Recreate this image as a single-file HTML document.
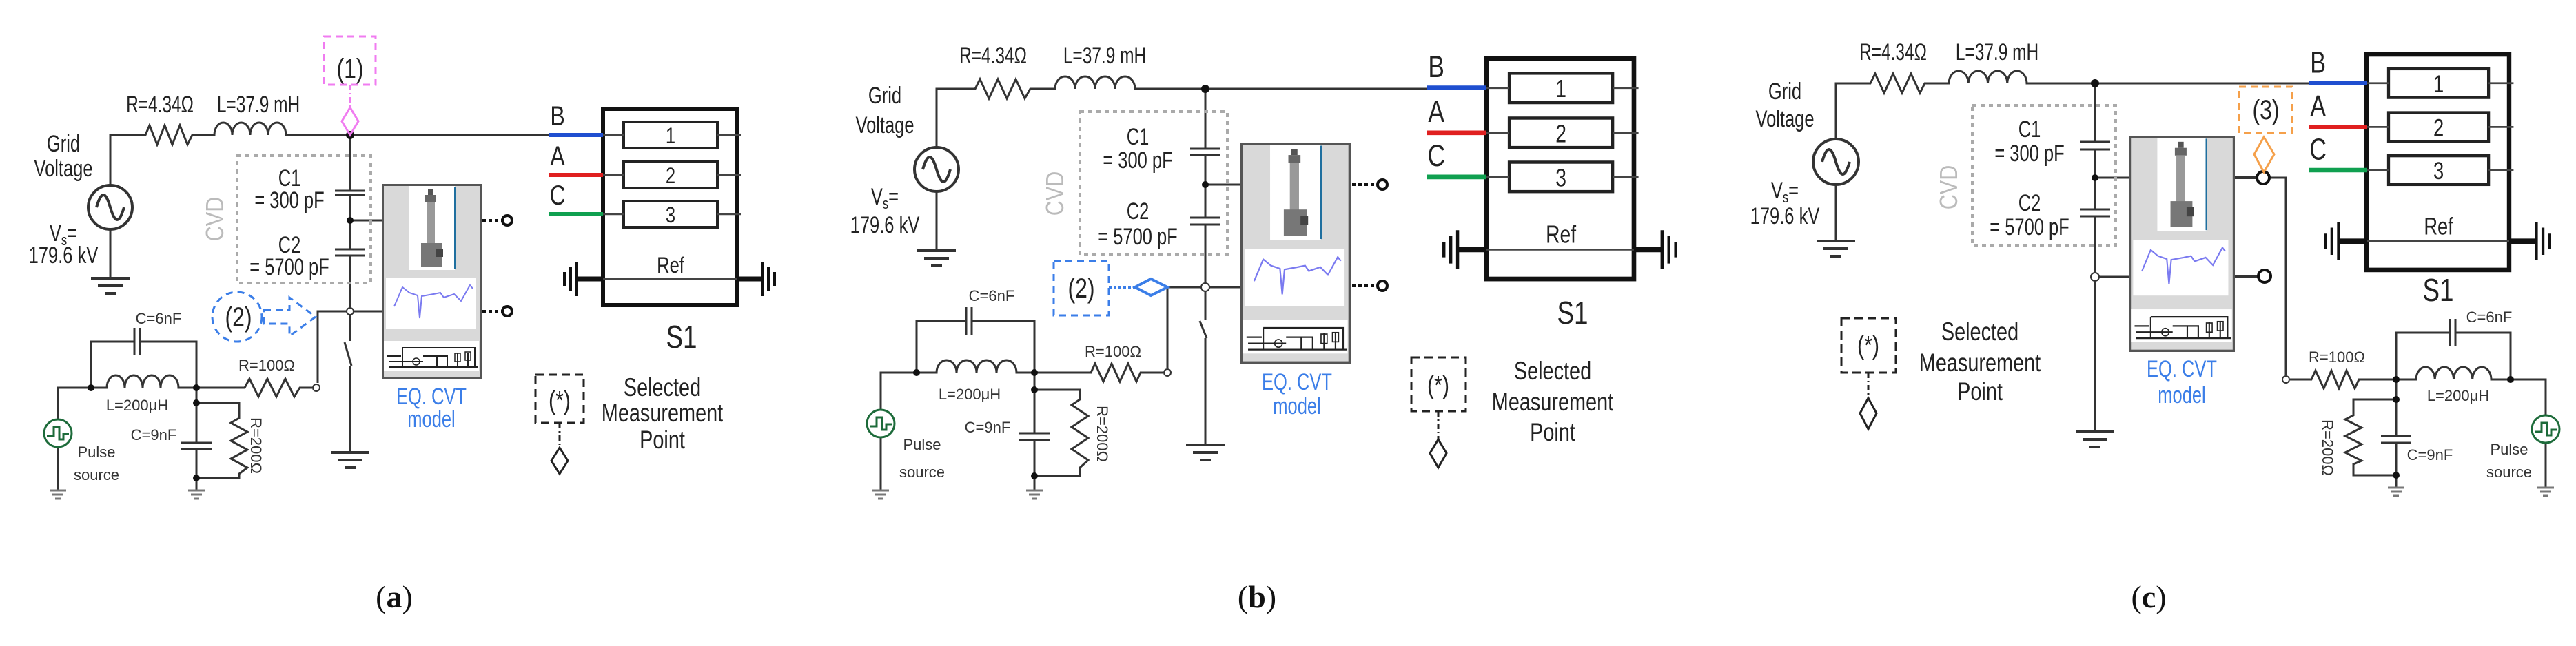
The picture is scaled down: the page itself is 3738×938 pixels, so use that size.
<!DOCTYPE html>
<html><head><meta charset="utf-8"><style>
html,body{margin:0;padding:0;background:#fff}
svg{display:block}
.n{font-family:"Liberation Sans Narrow","Liberation Sans",sans-serif;fill:#222}
.s{font-family:"Liberation Sans",sans-serif;fill:#333}
</style></head><body>
<svg width="3738" height="938" viewBox="0 0 3738 938" xmlns="http://www.w3.org/2000/svg">
<defs>
<symbol id="eq" viewBox="0 0 145 284" preserveAspectRatio="none">
 <rect x="1.5" y="1.5" width="142" height="281" fill="#d9d9d9" stroke="#555" stroke-width="3"/>
 <rect x="39" y="3" width="67" height="122" fill="#fff"/>
 <line x1="106" y1="4" x2="106" y2="124" stroke="#1f6f9f" stroke-width="2"/>
 <rect x="67" y="8" width="8" height="8" fill="#555"/>
 <rect x="63" y="16" width="16" height="10" fill="#666"/>
 <rect x="65" y="26" width="12" height="62" fill="#999"/>
 <rect x="57" y="86" width="30" height="34" fill="#777"/>
 <rect x="79" y="94" width="10" height="12" fill="#444"/>
 <rect x="6" y="137" width="130" height="73" fill="#fff"/>
 <polyline points="18,178 30,150 40,158 52,162 55,195 58,163 75,160 85,158 90,165 105,160 115,170 128,147 132,152" fill="none" stroke="#7a7af0" stroke-width="2"/>
 <rect x="3" y="228" width="138" height="43" fill="#fff"/>
 <path d="M10,258 H60 M10,266 H140 M30,238 H135 V266 M30,238 V266 M60,250 H80 V266 M80,250 H95 V266 M110,245 V266 M125,245 V266 M8,250 H28" fill="none" stroke="#222" stroke-width="2"/>
 <rect x="106" y="246" width="8" height="12" fill="none" stroke="#222" stroke-width="1.5"/>
 <rect x="121" y="244" width="8" height="12" fill="none" stroke="#222" stroke-width="1.5"/>
 <circle cx="50" cy="258" r="5" fill="none" stroke="#222" stroke-width="1.5"/>
</symbol>
<g id="gnd"><path d="M-28,0 H28 M-18,11 H18 M-8,22 H8" stroke="#333" stroke-width="4" fill="none"/></g>
<g id="gs"><path d="M-12,0 H12 M-8,6 H8 M-4,12 H4" stroke="#777" stroke-width="3" fill="none"/></g>
<g id="s1">
 <rect x="0" y="0" width="194" height="285" fill="none" stroke="#111" stroke-width="6"/>
 <g fill="none" stroke="#222" stroke-width="4">
 <rect x="30" y="19" width="136" height="38"/><rect x="30" y="77" width="136" height="38"/><rect x="30" y="134" width="136" height="38"/></g>
 <path d="M0,38 H30 M166,38 H200 M0,96 H30 M166,96 H200 M0,153 H30 M166,153 H200" stroke="#444" stroke-width="2.5"/>
 <line x1="-78" y1="38" x2="0" y2="38" stroke="#1f4fd0" stroke-width="6"/>
 <line x1="-78" y1="96" x2="0" y2="96" stroke="#e02020" stroke-width="6"/>
 <line x1="-78" y1="153" x2="0" y2="153" stroke="#10a050" stroke-width="6"/>
 <line x1="-38" y1="247" x2="231" y2="247" stroke="#444" stroke-width="2.5"/>
 <path d="M-38,247 H0 M194,247 H231" stroke="#111" stroke-width="7"/>
 <path d="M-38,222 V272 M-47,229 V265 M-56,237 V257 M231,222 V272 M240,229 V265 M249,237 V257" stroke="#111" stroke-width="4"/>
 <g class="n" font-size="40" text-anchor="middle">
  <text transform="translate(-66,24) scale(.8,1)">B</text><text transform="translate(-66,82) scale(.8,1)">A</text><text transform="translate(-66,139) scale(.8,1)">C</text></g>
 <g class="n" font-size="32" text-anchor="middle">
  <text transform="translate(98,50) scale(.8,1)">1</text><text transform="translate(98,108) scale(.8,1)">2</text><text transform="translate(98,165) scale(.8,1)">3</text><text transform="translate(98,238) scale(.8,1)">Ref</text></g>
</g>
</defs>

<g fill="none" stroke="#333" stroke-width="3">
<!-- A -->
<path d="M160,269 V196 H211 L217,182 L228,210 L239,182 L250,210 L261,182 L272,210 L279,196 H311 a13,18 0 0 1 26,0 a13,18 0 0 1 26,0 a13,18 0 0 1 26,0 a13,18 0 0 1 26,0 H797"/>
<path d="M160,333 V404"/>
<circle cx="160" cy="301" r="32" stroke-width="4"/>
<path d="M140,301 C147,277 153,277 160,301 S173,325 180,301" stroke-width="4"/>
<path d="M508,196 V277 M508,283 V362 M508,371 V495 M500,497 L510,531 M508,531 V657 M486,277 H530 M486,283 H530 M486,362 H530 M486,371 H530 M508,320 H554 M508,452 H554 M508,452 H461 V556"/>
<path d="M285,563 H355 L362,550 L375,576 L388,550 L401,576 L414,550 L427,576 L435,563 H453"/>
<path d="M84,609 V563 H155 a13,18 0 0 1 26,0 a13,18 0 0 1 26,0 a13,18 0 0 1 26,0 a13,18 0 0 1 26,0 V563 H285 M132,563 V496 H195 M203,496 H285 V563 M195,476 V516 M203,476 V516 M84,649 V712"/>
<path d="M285,563 V643 M263,643 H307 M263,652 H307 M285,652 V694 V712 M285,585 H347 V607 L335,614 L359,627 L335,640 L359,653 L335,666 L359,679 L347,688 V694 H285"/>
<!-- B -->
<path d="M1359,214 V129 H1415 L1422,115 L1435,143 L1448,115 L1461,143 L1474,115 L1487,143 L1495,129 H1531 a14.5,18 0 0 1 29,0 a14.5,18 0 0 1 29,0 a14.5,18 0 0 1 29,0 a14.5,18 0 0 1 29,0 H2071"/>
<path d="M1359,278 V364"/>
<circle cx="1359" cy="246" r="32" stroke-width="4"/>
<path d="M1339,246 C1346,222 1352,222 1359,246 S1372,270 1379,246" stroke-width="4"/>
<path d="M1749,129 V216 M1749,225 V316 M1749,326 V464 M1741,466 L1751,491 M1749,491 V646 M1727,216 H1771 M1727,225 H1771 M1727,316 H1771 M1727,326 H1771 M1749,268 H1800 M1749,417 H1800 M1749,417 H1694 V535"/>
<path d="M1501,541 H1583 L1589,528 L1601,554 L1613,528 L1625,554 L1637,528 L1649,554 L1655,541 H1688"/>
<path d="M1278,595 V541 H1359 a14.5,18 0 0 1 29,0 a14.5,18 0 0 1 29,0 a14.5,18 0 0 1 29,0 a14.5,18 0 0 1 29,0 V541 H1501 M1330,541 V466 H1402 M1410,466 H1501 V541 M1402,446 V486 M1410,446 V486 M1278,635 V712"/>
<path d="M1501,541 V629 M1479,629 H1523 M1479,639 H1523 M1501,639 V691 V712 M1501,566 H1567 V580 L1555,588 L1579,604 L1555,620 L1579,636 L1555,652 L1579,668 L1567,679 V691 H1501"/>
<!-- C -->
<path d="M2664,202 V121 H2714 L2721,107 L2734,135 L2747,107 L2760,135 L2773,107 L2786,135 L2793,121 H2828 a14.1,18 0 0 1 28.25,0 a14.1,18 0 0 1 28.25,0 a14.1,18 0 0 1 28.25,0 a14.1,18 0 0 1 28.25,0 H3352"/>
<path d="M2664,268 V350"/>
<circle cx="2664" cy="235" r="33" stroke-width="4"/>
<path d="M2644,235 C2651,211 2657,211 2664,235 S2677,259 2684,235" stroke-width="4"/>
<path d="M3040,121 V206 M3040,217 V304 M3040,314 V627 M3018,206 H3062 M3018,217 H3062 M3018,304 H3062 M3018,314 H3062 M3040,258 H3089 M3040,402 H3089"/>
<path d="M3243,258 H3275 M3243,401 H3277" stroke-width="4"/>
<path d="M3293,258 H3317 V545"/>
<path d="M3323,551 H3354 L3360,538 L3372,564 L3383,538 L3394,564 L3405,538 L3417,564 L3423,551 H3506 a13.6,18 0 0 1 27.25,0 a13.6,18 0 0 1 27.25,0 a13.6,18 0 0 1 27.25,0 a13.6,18 0 0 1 27.25,0 V551 H3694 V603 M3694,643 V708 M3477,551 V483 H3555 M3563,483 H3643 V551 M3555,463 V503 M3563,463 V503"/>
<path d="M3477,551 V633 M3455,633 H3499 M3455,643 H3499 M3477,643 V690 V708 M3477,580 H3415 V603 L3403,609 L3427,621 L3403,633 L3427,645 L3403,657 L3427,669 L3415,674 V690 H3477"/>
</g>

<use href="#gnd" x="160" y="404"/><use href="#gnd" x="508" y="657"/>
<use href="#gnd" x="1359" y="364"/><use href="#gnd" x="1749" y="646"/>
<use href="#gnd" x="2664" y="350"/><use href="#gnd" x="3040" y="627"/>
<use href="#gs" x="84" y="712"/><use href="#gs" x="285" y="712"/>
<use href="#gs" x="1278" y="712"/><use href="#gs" x="1501" y="712"/>
<use href="#gs" x="3477" y="708"/><use href="#gs" x="3694" y="708"/>

<g fill="#111">
<circle cx="508" cy="196" r="6"/><circle cx="508" cy="320" r="5"/><circle cx="132" cy="563" r="5"/><circle cx="285" cy="563" r="5"/><circle cx="285" cy="585" r="5"/><circle cx="285" cy="694" r="5"/>
<circle cx="1749" cy="129" r="6"/><circle cx="1749" cy="268" r="5"/><circle cx="1330" cy="541" r="5"/><circle cx="1501" cy="541" r="5"/><circle cx="1501" cy="566" r="5"/><circle cx="1501" cy="691" r="5"/>
<circle cx="3040" cy="121" r="6"/><circle cx="3040" cy="258" r="5"/><circle cx="3477" cy="551" r="5"/><circle cx="3643" cy="551" r="5"/><circle cx="3477" cy="580" r="5"/><circle cx="3477" cy="690" r="5"/>
</g>
<g fill="#fff" stroke="#333" stroke-width="2">
<circle cx="508" cy="452" r="5"/><circle cx="459" cy="563" r="5"/>
<circle cx="1749" cy="417" r="6"/><circle cx="1694" cy="541" r="5"/>
<circle cx="3040" cy="402" r="6"/><circle cx="3317" cy="551" r="5"/>
</g>
<g fill="#fff" stroke="#111" stroke-width="4">
<circle cx="3284" cy="258" r="9"/><circle cx="3286" cy="401" r="9"/>
<circle cx="736" cy="320" r="7"/><circle cx="736" cy="452" r="7"/>
<circle cx="2006" cy="268" r="7"/><circle cx="2006" cy="415" r="7"/>
</g>
<g stroke="#111" stroke-width="4" stroke-dasharray="5,4">
<path d="M700,320 H729 M700,452 H729 M1962,268 H1999 M1962,415 H1999"/>
</g>

<g fill="none" stroke="#1d6b3a" stroke-width="3">
<circle cx="84" cy="629" r="20"/><path d="M68,633 H78 V620 H86 V638 H92 V630 H100"/>
<circle cx="1278" cy="615" r="20"/><path d="M1262,619 H1272 V606 H1280 V624 H1286 V616 H1294"/>
<circle cx="3694" cy="623" r="20"/><path d="M3678,627 H3688 V614 H3696 V632 H3702 V624 H3710"/>
</g>

<g fill="none" stroke="#aaa" stroke-width="4" stroke-dasharray="6,6">
<rect x="344" y="226" width="194" height="185"/>
<rect x="1567" y="162" width="214" height="208"/>
<rect x="2862" y="153" width="208" height="204"/>
</g>
<g class="n" font-size="36" style="fill:#bbb" text-anchor="middle">
<text transform="translate(324,318) rotate(-90) scale(.85,1)">CVD</text>
<text transform="translate(1543,281) rotate(-90) scale(.85,1)">CVD</text>
<text transform="translate(2840,272) rotate(-90) scale(.85,1)">CVD</text>
</g>

<use href="#eq" x="554" y="267" width="145" height="284"/>
<use href="#eq" x="1800" y="207" width="160" height="321"/>
<use href="#eq" x="3089" y="197" width="154" height="314"/>

<use href="#s1" transform="translate(875,158)"/>
<use href="#s1" transform="translate(2157,85) scale(1.103,1.123)"/>
<use href="#s1" transform="translate(3434,79) scale(1.067,1.098)"/>

<rect x="470" y="53" width="75" height="70" fill="none" stroke="#f07cf0" stroke-width="3" stroke-dasharray="10,7"/>
<path d="M508,123 V156" stroke="#f07cf0" stroke-width="3" stroke-dasharray="8,4,2,4"/>
<polygon points="508,156 520,176 508,196 496,176" fill="none" stroke="#f07cf0" stroke-width="3"/>
<circle cx="344" cy="460" r="36" fill="none" stroke="#3b7ee8" stroke-width="3" stroke-dasharray="10,7"/>
<polygon points="383,450 420,450 420,432 458,460 420,488 420,470 383,470" fill="none" stroke="#3b7ee8" stroke-width="3" stroke-dasharray="10,7"/>
<rect x="1529" y="379" width="80" height="79" fill="none" stroke="#3b7ee8" stroke-width="3" stroke-dasharray="10,7"/>
<path d="M1609,417 H1647" stroke="#3b7ee8" stroke-width="4" stroke-dasharray="4,3"/>
<polygon points="1647,417 1670,405 1694,417 1670,429" fill="none" stroke="#3b7ee8" stroke-width="4"/>
<rect x="3249" y="126" width="77" height="67" fill="none" stroke="#f5a04a" stroke-width="3" stroke-dasharray="10,7"/>
<polygon points="3285,199 3300,224 3285,250 3271,224" fill="none" stroke="#f5a04a" stroke-width="3"/>

<g fill="none" stroke="#222" stroke-width="3">
<rect x="777" y="544" width="70" height="70" stroke-dasharray="12,7"/>
<path d="M812,614 V650" stroke-dasharray="8,4,2,4"/>
<polygon points="812,650 824,669 812,688 800,669"/>
<rect x="2048" y="519" width="79" height="78" stroke-dasharray="12,7"/>
<path d="M2087,597 V638" stroke-dasharray="8,4,2,4"/>
<polygon points="2087,638 2099,658 2087,679 2075,658"/>
<rect x="2672" y="462" width="79" height="79" stroke-dasharray="12,7"/>
<path d="M2711,541 V578" stroke-dasharray="8,4,2,4"/>
<polygon points="2711,578 2723,600 2711,623 2699,600"/>
</g>

<g class="n" font-size="34" text-anchor="middle">
<text transform="translate(508,113) scale(.8,1)" font-size="40">(1)</text>
<text transform="translate(346,474) scale(.8,1)" font-size="40">(2)</text>
<text transform="translate(1569,432) scale(.8,1)" font-size="40">(2)</text>
<text transform="translate(3288,173) scale(.8,1)" font-size="40">(3)</text>
<text transform="translate(812,594) scale(.8,1)" font-size="38">(*)</text>
<text transform="translate(2087,572) scale(.8,1)" font-size="38">(*)</text>
<text transform="translate(2711,514) scale(.8,1)" font-size="38">(*)</text>
<!-- a -->
<text transform="translate(232,163) scale(.72,1)">R=4.34Ω</text><text transform="translate(375,163) scale(.72,1)">L=37.9 mH</text>
<text transform="translate(92,220) scale(.75,1)">Grid</text><text transform="translate(92,256) scale(.75,1)">Voltage</text>
<text transform="translate(92,350) scale(.75,1)">V<tspan font-size="22" dy="6">s</tspan><tspan dy="-6">=</tspan></text><text transform="translate(92,382) scale(.75,1)">179.6 kV</text>
<text transform="translate(420,270) scale(.75,1)">C1</text><text transform="translate(420,302) scale(.75,1)">= 300 pF</text>
<text transform="translate(420,367) scale(.75,1)">C2</text><text transform="translate(420,399) scale(.75,1)">= 5700 pF</text>
<text transform="translate(961,575) scale(.78,1)" font-size="37">Selected</text><text transform="translate(961,612) scale(.78,1)" font-size="37">Measurement</text><text transform="translate(961,651) scale(.78,1)" font-size="37">Point</text>
<text transform="translate(989,505) scale(.8,1)" font-size="46">S1</text>
<!-- b -->
<text transform="translate(1441,92) scale(.72,1)">R=4.34Ω</text><text transform="translate(1603,92) scale(.72,1)">L=37.9 mH</text>
<text transform="translate(1284,150) scale(.75,1)">Grid</text><text transform="translate(1284,193) scale(.75,1)">Voltage</text>
<text transform="translate(1284,297) scale(.75,1)">V<tspan font-size="22" dy="6">s</tspan><tspan dy="-6">=</tspan></text><text transform="translate(1284,338) scale(.75,1)">179.6 kV</text>
<text transform="translate(1651,210) scale(.75,1)">C1</text><text transform="translate(1651,244) scale(.75,1)">= 300 pF</text>
<text transform="translate(1651,318) scale(.75,1)">C2</text><text transform="translate(1651,355) scale(.75,1)">= 5700 pF</text>
<text transform="translate(2253,551) scale(.78,1)" font-size="37">Selected</text><text transform="translate(2253,596) scale(.78,1)" font-size="37">Measurement</text><text transform="translate(2253,640) scale(.78,1)" font-size="37">Point</text>
<text transform="translate(2282,470) scale(.8,1)" font-size="46">S1</text>
<!-- c -->
<text transform="translate(2747,87) scale(.72,1)">R=4.34Ω</text><text transform="translate(2898,87) scale(.72,1)">L=37.9 mH</text>
<text transform="translate(2590,144) scale(.75,1)">Grid</text><text transform="translate(2590,184) scale(.75,1)">Voltage</text>
<text transform="translate(2590,288) scale(.75,1)">V<tspan font-size="22" dy="6">s</tspan><tspan dy="-6">=</tspan></text><text transform="translate(2590,325) scale(.75,1)">179.6 kV</text>
<text transform="translate(2945,199) scale(.75,1)">C1</text><text transform="translate(2945,234) scale(.75,1)">= 300 pF</text>
<text transform="translate(2945,306) scale(.75,1)">C2</text><text transform="translate(2945,341) scale(.75,1)">= 5700 pF</text>
<text transform="translate(2873,494) scale(.78,1)" font-size="37">Selected</text><text transform="translate(2873,539) scale(.78,1)" font-size="37">Measurement</text><text transform="translate(2873,581) scale(.78,1)" font-size="37">Point</text>
<text transform="translate(3538,437) scale(.8,1)" font-size="46">S1</text>
</g>
<g class="n" font-size="34" text-anchor="middle" style="fill:#3b7ee8">
<text transform="translate(626,587) scale(.75,1)">EQ. CVT</text><text transform="translate(626,620) scale(.75,1)">model</text>
<text transform="translate(1882,566) scale(.75,1)">EQ. CVT</text><text transform="translate(1882,601) scale(.75,1)">model</text>
<text transform="translate(3166,547) scale(.75,1)">EQ. CVT</text><text transform="translate(3166,585) scale(.75,1)">model</text>
</g>

<g class="s" font-size="22" text-anchor="middle">
<text x="230" y="470">C=6nF</text><text x="387" y="538">R=100Ω</text><text x="199" y="596">L=200μH</text>
<text x="223" y="639">C=9nF</text><text x="140" y="664">Pulse</text><text x="140" y="697">source</text>
<text transform="translate(364,647) rotate(90)">R=200Ω</text>
<text x="1439" y="437">C=6nF</text><text x="1615" y="518">R=100Ω</text><text x="1407" y="580">L=200μH</text>
<text x="1433" y="628">C=9nF</text><text x="1338" y="653">Pulse</text><text x="1338" y="693">source</text>
<text transform="translate(1592,630) rotate(90)">R=200Ω</text>
<text x="3612" y="468">C=6nF</text><text x="3391" y="526">R=100Ω</text><text x="3567" y="582">L=200μH</text>
<text x="3526" y="668">C=9nF</text><text x="3641" y="660">Pulse</text><text x="3641" y="693">source</text>
<text transform="translate(3370,650) rotate(90)">R=200Ω</text>
</g>

<g font-family="Liberation Serif, serif" font-size="46" text-anchor="middle" fill="#111">
<text x="572" y="882">(<tspan font-weight="bold">a</tspan>)</text>
<text x="1824" y="882">(<tspan font-weight="bold">b</tspan>)</text>
<text x="3118" y="882">(<tspan font-weight="bold">c</tspan>)</text>
</g>
</svg>
</body></html>
